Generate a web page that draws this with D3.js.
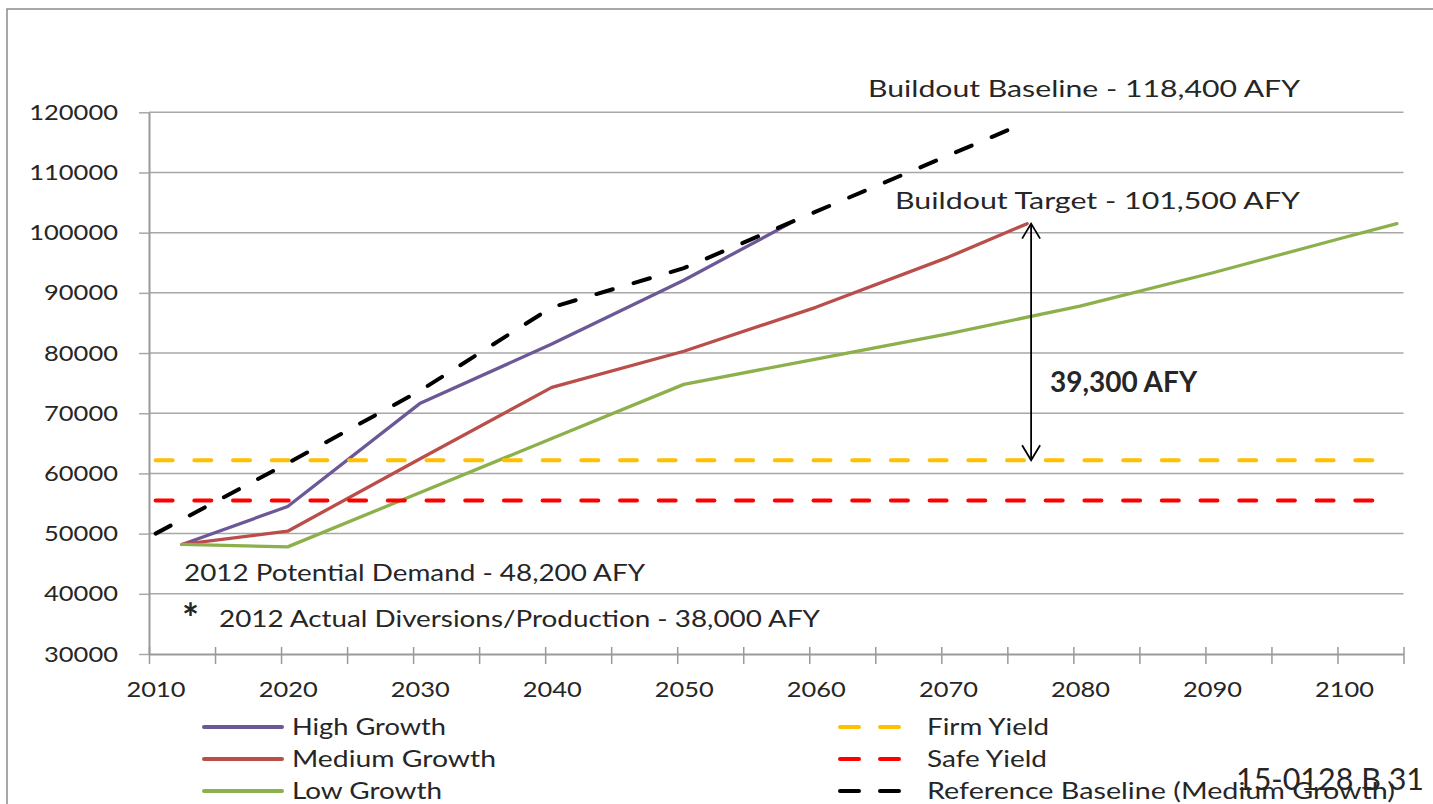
<!DOCTYPE html>
<html>
<head>
<meta charset="utf-8">
<script src="https://cdn.jsdelivr.net/npm/d3@7"></script>
<style>
  html, body { margin: 0; padding: 0; background: #fff; overflow: hidden; }
  svg { display: block; }
  text { font-family: Lato, "Open Sans", sans-serif; fill: #262626; }
</style>
</head>
<body>
<svg id="chart" width="1433" height="804"></svg>
<script>
// Water demand projections, acre-feet per year (AFY)
const baselineYears  = [2010, 2020, 2030, 2040, 2050, 2060, 2070, 2076];
const baselineValues = [50000, 61700, 73700, 87600, 94100, 103500, 112800, 118400];

const highYears  = [2012, 2020, 2030, 2040, 2050, 2058];
const highValues = [48200, 54500, 71600, 81500, 92100, 101500];

const mediumYears  = [2012, 2020, 2030, 2040, 2050, 2060, 2070, 2076];
const mediumValues = [48200, 50400, 62400, 74300, 80300, 87600, 95900, 101500];

const lowYears  = [2012, 2020, 2030, 2040, 2050, 2060, 2070, 2080, 2090, 2100, 2104];
const lowValues = [48200, 47800, 56800, 65800, 74800, 79000, 83200, 87800, 93300, 99200, 101500];

// Supply limits (flat over the planning horizon)
const yieldYears = [2010, 2103];
const firmYield = 62200;
const safeYield = 55500;

// Gap between buildout target and firm yield
const buildoutTarget = 101500;
const gapYear = 2076.3;

// Axis ticks and labels
const yTicks = [30000, 40000, 50000, 60000, 70000, 80000, 90000, 100000, 110000, 120000];
const xTickYears = [2009.5, 2014.5, 2019.5, 2024.5, 2029.5, 2034.5, 2039.5, 2044.5, 2049.5, 2054.5,
                    2059.5, 2064.5, 2069.5, 2074.5, 2079.5, 2084.5, 2089.5, 2094.5, 2099.5, 2104.5];
const xLabelYears = [2010, 2020, 2030, 2040, 2050, 2060, 2070, 2080, 2090, 2100];

const COLORS = {
  high: "#6c5896",
  medium: "#b94e4a",
  low: "#8cb04b",
  firm: "#ffc000",
  safe: "#ff0000",
  baseline: "#000000",
  grid: "#a8a8a8",
  axis: "#9a9a9a"
};

const svg = d3.select("#chart");

// Outer chart frame
svg.append("rect")
  .attr("x", 7).attr("y", 9)
  .attr("width", 1500).attr("height", 900)
  .attr("fill", "#fff")
  .attr("stroke", "#8c8c8c").attr("stroke-width", 1.5);

const x = d3.scaleLinear().domain([2009.5, 2104.5]).range([149, 1403.5]);
const y = d3.scaleLinear().domain([30000, 120000]).range([654, 112.3]);

// Horizontal gridlines
svg.append("g")
  .selectAll("line")
  .data(yTicks.slice(1))
  .join("line")
  .attr("x1", x(2009.5)).attr("x2", x(2104.5))
  .attr("y1", d => y(d)).attr("y2", d => y(d))
  .attr("stroke", COLORS.grid).attr("stroke-width", 1.5);

// Y axis
const gY = svg.append("g")
  .attr("transform", `translate(${x(2009.5)},0)`)
  .call(d3.axisLeft(y).tickValues(yTicks).tickSize(10).tickSizeOuter(0)
        .tickPadding(21).tickFormat(d3.format("d")));
gY.select(".domain").attr("stroke", COLORS.axis).attr("stroke-width", 2);
gY.selectAll(".tick line").attr("stroke", COLORS.grid).attr("stroke-width", 1.5);
gY.selectAll(".tick text")
  .attr("font-family", "Lato, sans-serif")
  .attr("font-size", 22)
  .attr("fill", "#262626")
  .attr("textLength", d => String(d).length * 14.8)
  .attr("lengthAdjust", "spacingAndGlyphs");

// X axis: tick marks every five years
const gX = svg.append("g")
  .attr("transform", `translate(0,${y(30000)})`)
  .call(d3.axisBottom(x).tickValues(xTickYears).tickSizeOuter(0).tickFormat(""));
gX.select(".domain").attr("stroke", COLORS.axis).attr("stroke-width", 2);
gX.selectAll(".tick line")
  .attr("y1", -7).attr("y2", 10)
  .attr("stroke", COLORS.axis).attr("stroke-width", 1.5);

// X axis: decade labels
const gXL = svg.append("g")
  .attr("transform", `translate(0,${y(30000)})`)
  .call(d3.axisBottom(x).tickValues(xLabelYears).tickSize(0).tickPadding(27).tickFormat(d3.format("d")));
gXL.select(".domain").remove();
gXL.selectAll(".tick text")
  .attr("font-family", "Lato, sans-serif")
  .attr("font-size", 22)
  .attr("fill", "#262626")
  .attr("textLength", 59)
  .attr("lengthAdjust", "spacingAndGlyphs");

const line = d3.line().x(d => x(d[0])).y(d => y(d[1]));

function drawSolid(years, values, color) {
  svg.append("path")
    .datum(d3.zip(years, values))
    .attr("d", line)
    .attr("fill", "none")
    .attr("stroke", color)
    .attr("stroke-width", 3.3)
    .attr("stroke-linejoin", "round")
    .attr("stroke-linecap", "round");
}

function drawDashed(years, values, color) {
  svg.append("path")
    .datum(d3.zip(years, values))
    .attr("d", line)
    .attr("fill", "none")
    .attr("stroke", color)
    .attr("stroke-width", 4)
    .attr("stroke-dasharray", "17 21.7")
    .attr("stroke-linecap", "round");
}

drawSolid(highYears, highValues, COLORS.high);
drawSolid(mediumYears, mediumValues, COLORS.medium);
drawSolid(lowYears, lowValues, COLORS.low);
drawDashed(yieldYears, yieldYears.map(() => firmYield), COLORS.firm);
drawDashed(yieldYears, yieldYears.map(() => safeYield), COLORS.safe);
drawDashed(baselineYears, baselineValues, COLORS.baseline);

// Double-headed arrow spanning buildout target to firm yield
const ax = x(gapYear), aTop = y(buildoutTarget), aBot = y(firmYield);
const arrow = svg.append("g").attr("fill", "none").attr("stroke", "#000").attr("stroke-width", 1.8);
arrow.append("line").attr("x1", ax).attr("x2", ax).attr("y1", aTop).attr("y2", aBot);
arrow.append("path").attr("d", `M${ax - 9},${aTop + 15}L${ax},${aTop}L${ax + 9},${aTop + 15}`);
arrow.append("path").attr("d", `M${ax - 9},${aBot - 15}L${ax},${aBot}L${ax + 9},${aBot - 15}`);

// Text helper: fixed-width annotation text
function label(str, tx, ty, width, size) {
  return svg.append("text")
    .attr("x", tx).attr("y", ty)
    .attr("font-size", size || 23.5)
    .attr("textLength", width)
    .attr("lengthAdjust", "spacingAndGlyphs")
    .text(str);
}

label("Buildout Baseline - 118,400 AFY", 868, 96.7, 432);
label("Buildout Target - 101,500 AFY", 895, 209, 405);
label("2012 Potential Demand - 48,200 AFY", 184, 580.7, 461);
label("2012 Actual Diversions/Production - 38,000 AFY", 219, 626.7, 601);

svg.append("text")
  .attr("x", 182).attr("y", 633)
  .attr("font-size", 40).attr("font-weight", "bold")
  .attr("fill", "#111")
  .text("*");

svg.append("text")
  .attr("x", 1050).attr("y", 391.7)
  .attr("font-family", "'Liberation Sans', Arial, sans-serif")
  .attr("font-weight", "bold")
  .attr("font-size", 28)
  .attr("fill", "#000")
  .text("39,300 AFY");

// Legend
const legendLeft = [
  { name: "High Growth", color: COLORS.high, w: 154 },
  { name: "Medium Growth", color: COLORS.medium, w: 204 },
  { name: "Low Growth", color: COLORS.low, w: 150 }
];
const legendRight = [
  { name: "Firm Yield", color: COLORS.firm, w: 122 },
  { name: "Safe Yield", color: COLORS.safe, w: 120 },
  { name: "Reference Baseline (Medium Growth)", color: COLORS.baseline, w: 468 }
];
const rowY = [727, 759, 791];

legendLeft.forEach((d, i) => {
  svg.append("line")
    .attr("x1", 204).attr("x2", 282).attr("y1", rowY[i]).attr("y2", rowY[i])
    .attr("stroke", d.color).attr("stroke-width", 4).attr("stroke-linecap", "round");
  label(d.name, 292, rowY[i] + 7.5, d.w);
});

legendRight.forEach((d, i) => {
  svg.append("line")
    .attr("x1", 840).attr("x2", 903).attr("y1", rowY[i]).attr("y2", rowY[i])
    .attr("stroke", d.color).attr("stroke-width", 4)
    .attr("stroke-dasharray", "19 21").attr("stroke-linecap", "round");
  label(d.name, 927, rowY[i] + 7.5, d.w);
});

// Document reference number
svg.append("text")
  .attr("x", 1236).attr("y", 790)
  .attr("font-family", "'Liberation Sans', Arial, sans-serif")
  .attr("font-size", 31)
  .attr("fill", "#000")
  .attr("textLength", 188)
  .attr("lengthAdjust", "spacingAndGlyphs")
  .text("15-0128 B 31");
</script>
</body>
</html>
